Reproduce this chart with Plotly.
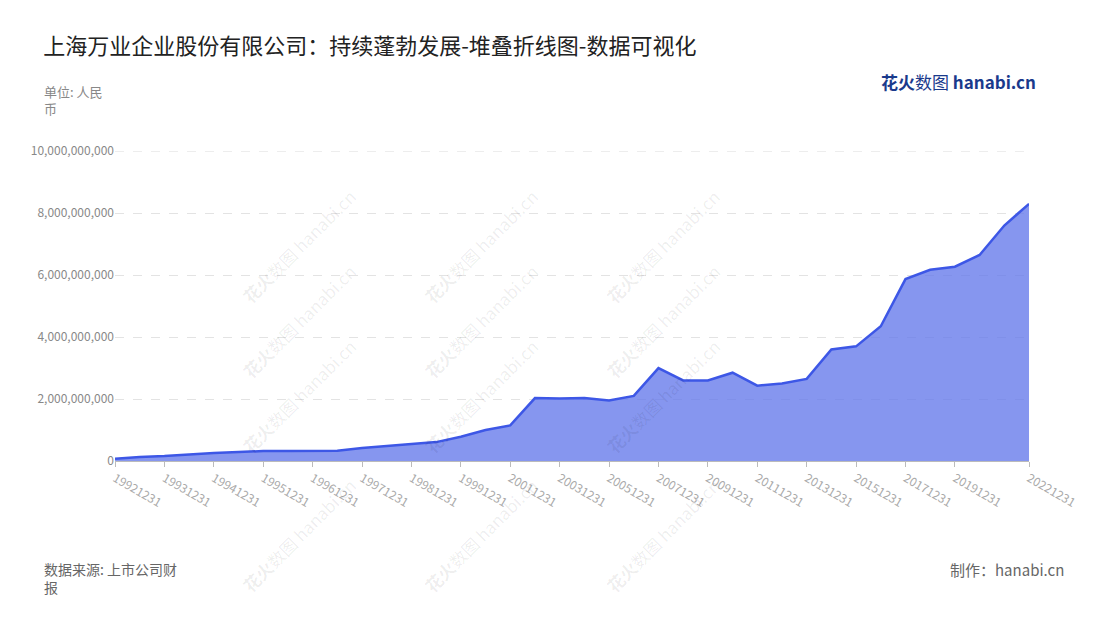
import plotly.graph_objects as go

dates = ["19921231", "19930630", "19931231", "19940630", "19941231", "19950630", "19951231",
         "19960630", "19961231", "19970630", "19971231", "19980630", "19981231", "19990630",
         "19991231", "20001231", "20011231", "20021231", "20031231", "20041231", "20051231",
         "20061231", "20071231", "20081231", "20091231", "20101231", "20111231", "20121231",
         "20131231", "20141231", "20151231", "20161231", "20171231", "20181231", "20191231",
         "20201231", "20211231", "20221231"]
values = [0.07, 0.13, 0.16, 0.22, 0.26, 0.29, 0.32, 0.32, 0.33, 0.33, 0.42, 0.49, 0.56, 0.61,
          0.78, 1.0, 1.15, 2.03, 2.02, 2.03, 1.95, 2.1, 3.0, 2.6, 2.6, 2.85, 2.43, 2.5, 2.65,
          3.6, 3.7, 4.35, 5.87, 6.17, 6.27, 6.65, 7.6, 8.3]
values = [v * 1e9 for v in values]
tick_dates = dates[0:35:2] + [dates[-1]]

font = "Noto Sans CJK SC"
fig = go.Figure()
fig.add_trace(go.Scatter(x=dates, y=values, mode="lines", fill="tozeroy",
                         line=dict(color="#3d57e6", width=2.5),
                         fillcolor="rgba(100,120,235,0.78)"))

ann = []
# 水印
for wx in [0.33, 0.6, 0.87]:
    for wy in [0.9, 0.45, 0.0, -0.45]:
        ann.append(dict(text="<b>花火</b>数图 hanabi.cn", xref="paper", yref="paper", x=wx - 0.2, y=wy,
                        showarrow=False, textangle=-45, font=dict(size=17, color="rgba(0,0,0,0.07)")))
ann += [
    dict(text="单位: 人民<br>币", xref="paper", yref="paper", x=-0.08, y=1.23, xanchor="left",
         align="left", showarrow=False, font=dict(size=13, color="#888")),
    dict(text="数据来源: 上市公司财<br>报", xref="paper", yref="paper", x=-0.08, y=-0.31,
         xanchor="left", yanchor="top", align="left", showarrow=False, font=dict(size=14, color="#666")),
    dict(text="制作：hanabi.cn", xref="paper", yref="paper", x=1.04, y=-0.31, xanchor="right",
         yanchor="top", showarrow=False, font=dict(size=15, color="#666")),
    dict(text="<b>花火</b>数图 <b>hanabi.cn</b>", xref="paper", yref="paper", x=1.01, y=1.27,
         xanchor="right", showarrow=False, font=dict(size=17, color="#1a3a8c")),
]

fig.update_layout(
    width=1100, height=620, paper_bgcolor="white", plot_bgcolor="white",
    font=dict(family=font),
    title=dict(text="上海万业企业股份有限公司：持续蓬勃发展-堆叠折线图-数据可视化", x=0.032, y=0.95,
               font=dict(size=22, color="#222")),
    margin=dict(l=107, r=79, t=143, b=167),
    showlegend=False, annotations=ann,
    shapes=[dict(type="line", xref="paper", x0=0, x1=1, yref="y", y0=1e10, y1=1e10,
                 line=dict(color="#e3e3e3", width=1, dash="dash"), layer="below")],
    xaxis=dict(type="category", tickvals=tick_dates, tickangle=30, showgrid=False,
               showline=True, linecolor="#bbb", ticks="outside", ticklen=5, tickcolor="#bbb",
               tickfont=dict(size=12, color="#aaa"), range=[0, len(dates) - 1]),
    yaxis=dict(range=[0, 1.0005e10], dtick=2e9, tickformat=",d", showgrid=True, gridcolor="#e3e3e3",
               griddash="dash", zeroline=False, tickfont=dict(size=12, color="#888")),
)
fig.write_html("out.html")
